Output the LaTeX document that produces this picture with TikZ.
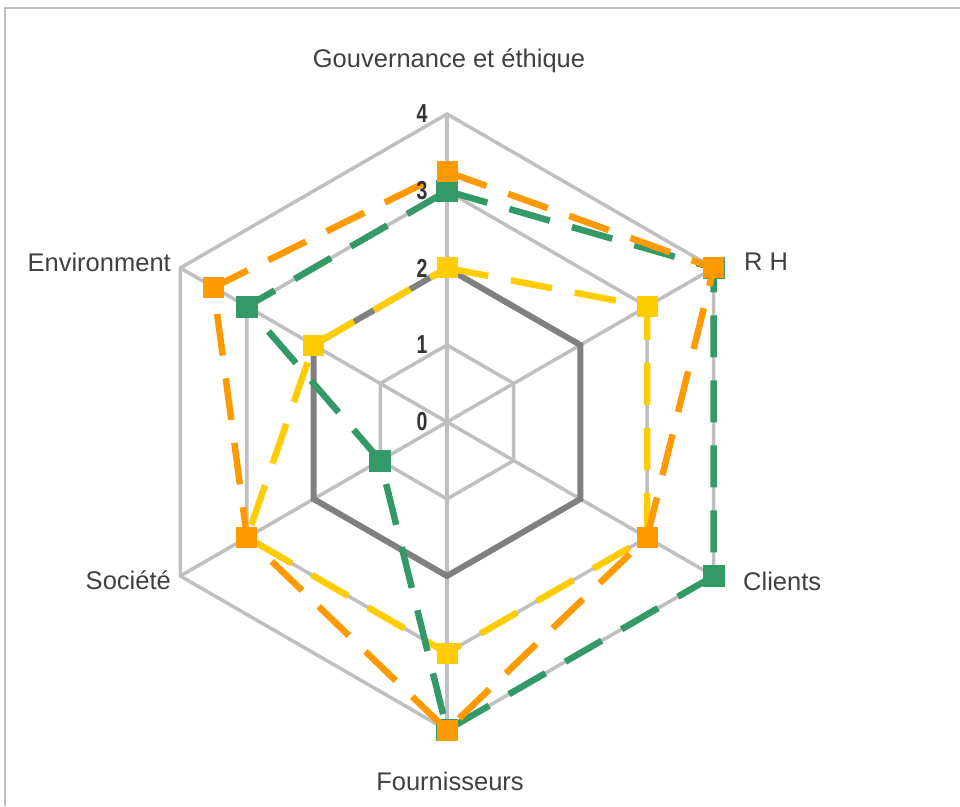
\documentclass[tikz,border=0pt]{standalone}
\usepackage{fontspec}
\setmainfont{Liberation Sans}
\definecolor{gridc}{HTML}{BFBFBF}
\definecolor{seriesgray}{HTML}{808080}
\definecolor{yellowc}{HTML}{FFCC00}
\definecolor{greenc}{HTML}{339966}
\definecolor{orangec}{HTML}{FF9900}
\definecolor{labelc}{HTML}{404040}
\definecolor{tickc}{HTML}{333333}
\begin{document}
\begin{tikzpicture}[x=1pt,y=1pt,
  grid/.style={draw=gridc,line width=3.5pt},
  frame/.style={draw=gridc,line width=2pt},
  series/.style={draw=#1,line width=6.5pt,dash pattern=on 42pt off 23pt,line join=miter},
  mk/.style={fill=#1,draw=none,minimum size=21pt,inner sep=0pt,shape=rectangle},
  axlabel/.style={text=labelc,font=\fontsize{25.5}{30}\selectfont,inner sep=0pt},
  ticklabel/.style={text=tickc,font=\fontsize{26}{30}\selectfont\bfseries,inner sep=0pt}]
\useasboundingbox (-447,-384) rectangle (513,422);
% frame
\draw[frame] (-442,-384) -- (-442,414) -- (513,414);
% grid
\foreach \r in {1,2,3,4}
  \draw[grid] (90:\r*77) -- (30:\r*77) -- (-30:\r*77) -- (-90:\r*77) -- (210:\r*77) -- (150:\r*77) -- cycle;
\coordinate (c) at (0,0);
\foreach \a [count=\i] in {90,30,-30,-90,210,150}
  \coordinate (ax\i) at (\a:308);
\foreach \i in {1,...,6}
  \draw[grid] (c) -- (ax\i);
% gray series (all 2)
\foreach \a [count=\i] in {90,30,-30,-90,210,150}
  \coordinate (s\i) at (\a:154);
\draw[draw=seriesgray,line width=6pt,line join=miter] (s1) -- (s2) -- (s3) -- (s4) -- (s5) -- (s6) -- cycle;
% yellow series
\foreach \a/\v [count=\i] in {90/2,30/3,-30/3,-90/3,210/3,150/2}
  \coordinate (y\i) at (\a:\v*77);
\draw[series=yellowc] (y1) -- (y2) -- (y3) -- (y4) -- (y5) -- (y6) -- cycle;
\foreach \i in {1,...,6} \node[mk=yellowc] (my\i) at (y\i) {};
% green series
\foreach \a/\v [count=\i] in {90/3,30/4,-30/4,-90/4,210/1,150/3}
  \coordinate (g\i) at (\a:\v*77);
\draw[series=greenc] (g1) -- (g2) -- (g3) -- (g4) -- (g5) -- (g6) -- cycle;
\foreach \i in {1,...,6} \node[mk=greenc,minimum size=22pt] (mg\i) at (g\i) {};
% orange series
\foreach \a/\v [count=\i] in {90/3.25,30/4,-30/3,-90/4,210/3,150/3.5}
  \coordinate (o\i) at (\a:\v*77);
\draw[series=orangec] (o1) -- (o2) -- (o3) -- (o4) -- (o5) -- (o6) -- cycle;
\foreach \i in {1,...,6} \node[mk=orangec] (mo\i) at (o\i) {};
% tick labels
\foreach \v in {0,1,2,3,4}
  \node[ticklabel] (t\v) at (-25,\v*77) {\scalebox{0.75}[1]{\v}};
% axis labels
\node[axlabel] (lg) at (2,361) {Gouvernance et éthique};
\node[axlabel,anchor=west] (lr) at (297,160) {R H};
\node[axlabel,anchor=west] (lc) at (296,-159) {Clients};
\node[axlabel] (lf) at (3,-359) {Fournisseurs};
\node[axlabel,anchor=east] (ls) at (-276,-158) {Société};
\node[axlabel,anchor=east] (le) at (-276,160) {Environment};
\end{tikzpicture}
\end{document}
